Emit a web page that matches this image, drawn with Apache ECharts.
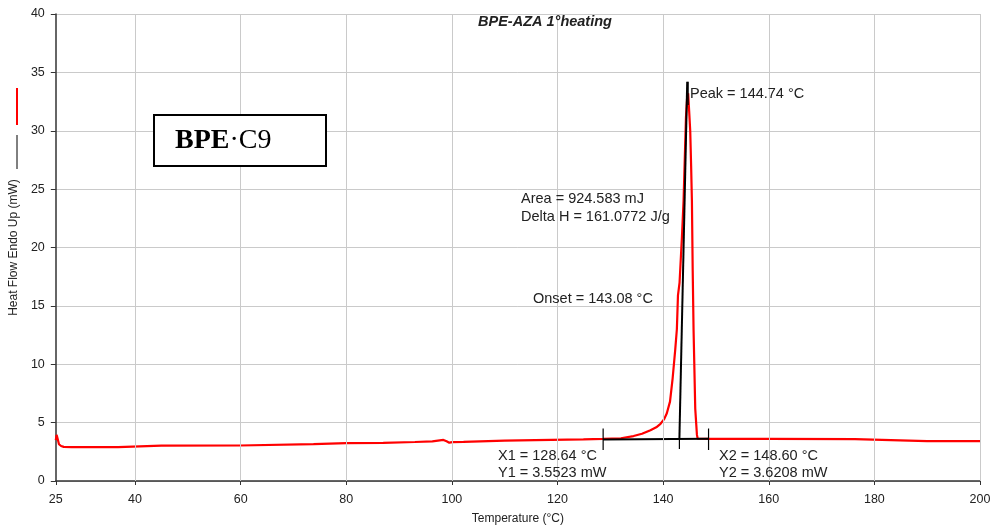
<!DOCTYPE html>
<html>
<head>
<meta charset="utf-8">
<title>BPE-AZA 1°heating</title>
<script src="https://cdn.jsdelivr.net/npm/echarts@6/dist/echarts.min.js"></script>
<style>
  html, body { margin: 0; padding: 0; background: #fff; }
  #chart { width: 996px; height: 530px; }
</style>
</head>
<body>
<div id="chart"></div>
<script>
// DSC heat-flow trace, first heating (temperature in °C, heat flow in mW)
const temperature = [
  25.0, 25.15, 25.3, 25.6, 26.0, 26.5, 28, 30, 36.8, 37.0, 45, 59.8, 60.0, 73.8, 74.0,
  80, 87, 87.2, 93, 93.2, 96.3, 96.5, 98.4, 99.0, 99.5, 100.1, 102.2, 102.4, 110,
  115.8, 116.0, 124.9, 125.1, 128.64, 132, 134.4, 136, 137.6, 138.7, 139.5, 140.2,
  140.7, 141.3, 141.8, 142.3, 142.6, 142.81, 143.11, 143.56, 143.87, 144.32, 144.57,
  144.74, 144.95, 145.13, 145.3, 145.45, 145.6, 145.76, 146.08, 146.4, 146.55, 148.6,
  160, 176.3, 176.5, 190, 200
];
const heatFlow = [
  3.5, 3.95, 3.7, 3.15, 3.0, 2.92, 2.9, 2.9, 2.9, 3.03, 3.03, 3.04, 3.14, 3.15, 3.24,
  3.25, 3.26, 3.33, 3.34, 3.38, 3.4, 3.52, 3.52, 3.4, 3.28, 3.33, 3.35, 3.45, 3.46,
  3.5, 3.53, 3.56, 3.6, 3.6, 3.66, 3.85, 4.05, 4.35, 4.6, 4.9, 5.3,
  5.8, 6.8, 8.8, 11.3, 13.0, 15.9, 17.0, 20.9, 24.0, 31.1, 33.0,
  33.2, 31.5, 30.0, 27.0, 24.0, 18.0, 13.0, 6.2, 3.95, 3.62, 3.6,
  3.6, 3.58, 3.42, 3.42, 3.42
];

// Peak analysis results
const baselineX = [128.64, 148.60];
const baselineY = [3.5523, 3.6208];
const onsetT = 143.08;
const peakT = 144.74;
const tangentX = [143.08, 144.56];
const tangentY = [3.59, 34.2];
const peakTickY = [32.2, 34.2];
const limitTickY = [2.65, 4.5];
const onsetTickY = [2.75, 3.59];

// Axis ticks
const xTicks = [25, 40, 60, 80, 100, 120, 140, 160, 180, 200];
const xGridLines = [40, 60, 80, 100, 120, 140, 160, 180, 200];

const chart = echarts.init(document.getElementById('chart'), null, { renderer: 'canvas' });

const FONT = 'Liberation Sans, Arial, sans-serif';
const TXT = '#222';

const trace = temperature.map((t, i) => [t, heatFlow[i]]);

function segment(xs, ys) {
  return xs.map((x, i) => [x, ys[i]]);
}

const blackLine = (name, data, width) => ({
  name, type: 'line', data, symbol: 'none', silent: true, z: 4,
  lineStyle: { color: '#000', width: width }, animation: false
});

const option = {
  animation: false,
  backgroundColor: '#fff',
  grid: { left: 55, right: 16, top: 14, bottom: 47, containLabel: false },
  xAxis: {
    type: 'value', min: 25, max: 200,
    name: 'Temperature (°C)', nameLocation: 'middle', nameGap: 32,
    nameTextStyle: { fontFamily: FONT, fontSize: 12, color: TXT },
    axisLine: { show: true, onZero: false, lineStyle: { color: '#333', width: 1.5 } },
    axisTick: { show: true, length: 4, customValues: xTicks, lineStyle: { color: '#333' } },
    axisLabel: { customValues: xTicks, fontFamily: FONT, fontSize: 12.5, color: TXT, margin: 12 },
    splitLine: { show: false }
  },
  yAxis: {
    type: 'value', min: 0, max: 40, interval: 5,
    name: 'Heat Flow Endo Up (mW)', nameLocation: 'middle', nameGap: 34,
    nameTextStyle: { fontFamily: FONT, fontSize: 12, color: TXT },
    axisLine: { show: true, lineStyle: { color: '#333', width: 1.5 } },
    axisTick: { show: true, length: 5, lineStyle: { color: '#333' } },
    axisLabel: { fontFamily: FONT, fontSize: 12.5, color: TXT, margin: 11 },
    splitLine: { show: true, lineStyle: { color: '#cacaca', width: 1 } }
  },
  series: [
    {
      name: 'grid', type: 'line', data: [], z: 1, silent: true,
      markLine: {
        silent: true, symbol: 'none', animation: false,
        label: { show: false },
        lineStyle: { color: '#cacaca', width: 1, type: 'solid' },
        data: xGridLines.map(v => ({ xAxis: v }))
      }
    },
    {
      name: 'Heat flow', type: 'line', data: trace, symbol: 'none', z: 3,
      lineStyle: { color: '#ff0000', width: 2.2 }
    },
    blackLine('Baseline', segment(baselineX, baselineY), 2),
    blackLine('X1', [[baselineX[0], limitTickY[0]], [baselineX[0], limitTickY[1]]], 1.2),
    blackLine('X2', [[baselineX[1], limitTickY[0]], [baselineX[1], limitTickY[1]]], 1.2),
    blackLine('Onset tick', [[onsetT, onsetTickY[0]], [onsetT, onsetTickY[1]]], 1.2),
    blackLine('Tangent', segment(tangentX, tangentY), 2),
    blackLine('Peak', [[peakT, peakTickY[0]], [peakT, peakTickY[1]]], 1.2)
  ],
  graphic: [
    // title
    { type: 'text', x: 545, y: 22, z: 12, style: {
      text: 'BPE-AZA 1°heating', fontFamily: FONT, fontSize: 14.5, fontWeight: 'bold',
      fontStyle: 'italic', fill: TXT, textAlign: 'center', verticalAlign: 'middle' } },
    // trace key beside the y-axis title
    { type: 'line', shape: { x1: 17, y1: 88, x2: 17, y2: 125 }, style: { stroke: '#ff0000', lineWidth: 2 } },
    { type: 'line', shape: { x1: 17, y1: 135, x2: 17, y2: 169 }, style: { stroke: '#000', lineWidth: 1 } },
    // sample label box
    { type: 'rect', shape: { x: 154, y: 115, width: 172, height: 51 },
      style: { fill: '#fff', stroke: '#000', lineWidth: 2 }, z: 10 },
    { type: 'text', x: 175, y: 141, z: 11, style: {
      text: '{b|BPE}{n|·C9}', verticalAlign: 'middle',
      rich: {
        b: { fontFamily: 'Liberation Serif, Times New Roman, serif', fontSize: 28, fontWeight: 'bold', fill: '#000' },
        n: { fontFamily: 'Liberation Serif, Times New Roman, serif', fontSize: 28, fill: '#000' }
      } } },
    // analysis annotations
    ...[
      ['Peak = 144.74 °C', 690, 94],
      ['Area = 924.583 mJ', 521, 199],
      ['Delta H = 161.0772 J/g', 521, 217],
      ['Onset = 143.08 °C', 533, 299],
      ['X1 = 128.64 °C', 498, 456],
      ['Y1 = 3.5523 mW', 498, 473],
      ['X2 = 148.60 °C', 719, 456],
      ['Y2 = 3.6208 mW', 719, 473]
    ].map(([t, x, y]) => ({
      type: 'text', x: x, y: y, z: 12, style: {
        text: t, fontFamily: FONT, fontSize: 14.5, fill: TXT, verticalAlign: 'middle' } }))
  ]
};

chart.setOption(option);
</script>
</body>
</html>
